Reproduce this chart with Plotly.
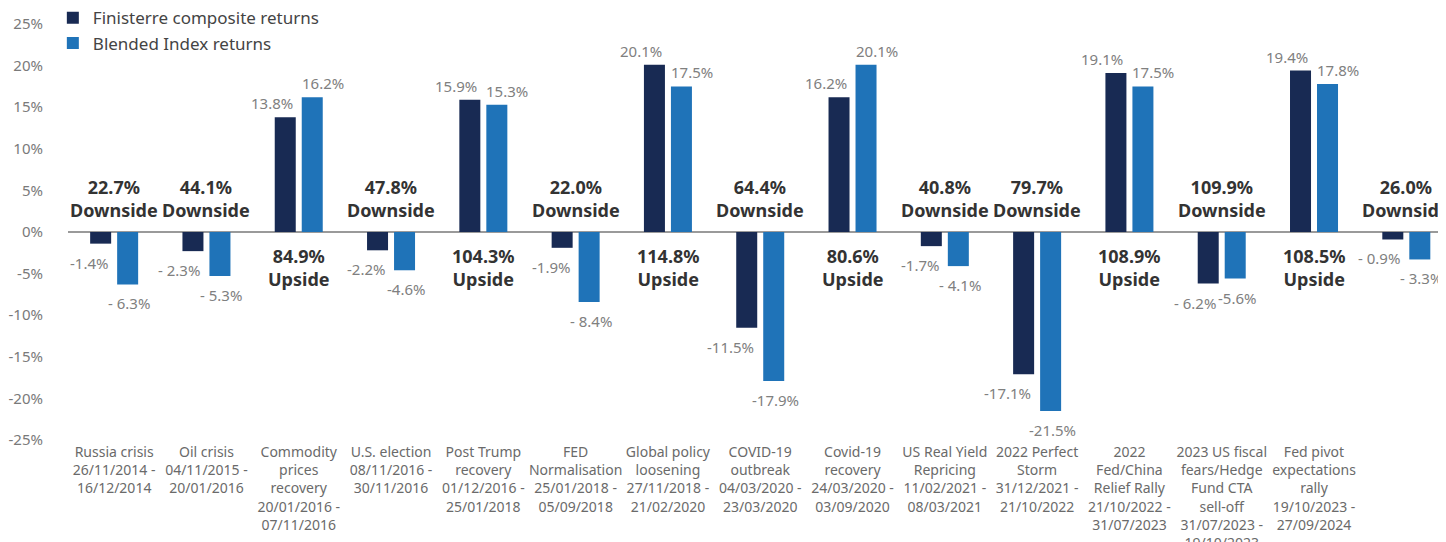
import plotly.graph_objects as go

categories = [
    "Russia crisis<br>26/11/2014 -<br>16/12/2014",
    "Oil crisis<br>04/11/2015 -<br>20/01/2016",
    "Commodity<br>prices<br>recovery<br>20/01/2016 -<br>07/11/2016",
    "U.S. election<br>08/11/2016 -<br>30/11/2016",
    "Post Trump<br>recovery<br>01/12/2016 -<br>25/01/2018",
    "FED<br>Normalisation<br>25/01/2018 -<br>05/09/2018",
    "Global policy<br>loosening<br>27/11/2018 -<br>21/02/2020",
    "COVID-19<br>outbreak<br>04/03/2020 -<br>23/03/2020",
    "Covid-19<br>recovery<br>24/03/2020 -<br>03/09/2020",
    "US Real Yield<br>Repricing<br>11/02/2021 -<br>08/03/2021",
    "2022 Perfect<br>Storm<br>31/12/2021 -<br>21/10/2022",
    "2022<br>Fed/China<br>Relief Rally<br>21/10/2022 -<br>31/07/2023",
    "2023 US fiscal<br>fears/Hedge<br>Fund CTA<br>sell-off<br>31/07/2023 -<br>19/10/2023",
    "Fed pivot<br>expectations<br>rally<br>19/10/2023 -<br>27/09/2024",
    "Trump 2.0<br>27/09/2024 -<br>31/12/2024",
]

finisterre = [-1.4, -2.3, 13.8, -2.2, 15.9, -1.9, 20.1, -11.5, 16.2, -1.7, -17.1, 19.1, -6.2, 19.4, -0.9]
blended = [-6.3, -5.3, 16.2, -4.6, 15.3, -8.4, 17.5, -17.9, 20.1, -4.1, -21.5, 17.5, -5.6, 17.8, -3.3]

finisterre_labels = ["-1.4%", "- 2.3%", "13.8%", "-2.2%", "15.9%", "-1.9%", "20.1%", "-11.5%",
                     "16.2%", "-1.7%", "-17.1%", "19.1%", "- 6.2%", "19.4%", "- 0.9%"]
blended_labels = ["- 6.3%", "- 5.3%", "16.2%", "-4.6%", "15.3%", "- 8.4%", "17.5%", "-17.9%",
                  "20.1%", "- 4.1%", "-21.5%", "17.5%", "-5.6%", "17.8%", "- 3.3%"]

capture_values = ["22.7%", "44.1%", "84.9%", "47.8%", "104.3%", "22.0%", "114.8%", "64.4%",
                  "80.6%", "40.8%", "79.7%", "108.9%", "109.9%", "108.5%", "26.0%"]
capture_types = ["Downside", "Downside", "Upside", "Downside", "Upside", "Downside", "Upside", "Downside",
                 "Upside", "Downside", "Downside", "Upside", "Downside", "Upside", "Downside"]

y_ticks = [-25, -20, -15, -10, -5, 0, 5, 10, 15, 20, 25]
y_tick_labels = ["-25%", "-20%", "-15%", "-10%", "-5%", "0%", "5%", "10%", "15%", "20%", "25%"]

NAVY = "#182a53"
BLUE = "#1f73b8"
FONT = "Noto Sans"

x_idx = list(range(len(categories)))

fig = go.Figure()
fig.add_trace(go.Bar(x=x_idx, y=finisterre, name="Finisterre composite returns",
                     marker=dict(color=NAVY, line=dict(width=0))))
fig.add_trace(go.Bar(x=x_idx, y=blended, name="Blended Index returns",
                     marker=dict(color=BLUE, line=dict(width=0))))

annotations = []
label_font = dict(family=FONT, size=15, color="#808080")
for i in x_idx:
    v = finisterre[i]
    annotations.append(dict(
        x=i, y=v, xref="x", yref="y", text=finisterre_labels[i], showarrow=False,
        xanchor="right", yanchor="top" if v < 0 else "bottom",
        xshift=-4, yshift=-7 if v < 0 else 2, font=label_font))
    v = blended[i]
    if v < 0:
        annotations.append(dict(
            x=i, y=v, xref="x", yref="y", text=blended_labels[i], showarrow=False,
            xanchor="center", yanchor="top", xshift=15, yshift=-7, font=label_font))
    else:
        annotations.append(dict(
            x=i, y=v, xref="x", yref="y", text=blended_labels[i], showarrow=False,
            xanchor="left", yanchor="bottom", xshift=1, yshift=2, font=label_font))
    down = capture_types[i] == "Downside"
    annotations.append(dict(
        x=i, y=4.05 if down else -4.3, xref="x", yref="y",
        text=f"<b>{capture_values[i]}<br>{capture_types[i]}</b>", showarrow=False,
        xanchor="center", yanchor="middle",
        font=dict(family=FONT, size=18, color="#333333")))

fig.update_layout(
    width=1438, height=534,
    margin=dict(l=60, r=0, t=16, b=102, autoexpand=False),
    paper_bgcolor="white", plot_bgcolor="white",
    barmode="group", bargap=0.415, bargroupgap=0.222,
    font=dict(family=FONT, color="#666666"),
    showlegend=True,
    legend=dict(x=-0.011, y=1.057, xanchor="left", yanchor="top",
                bgcolor="rgba(0,0,0,0)", font=dict(family=FONT, size=17, color="#444444"),
                tracegroupgap=0),
    annotations=annotations,
    xaxis=dict(range=[-0.5, 14.43], tickmode="array", tickvals=x_idx, ticktext=categories,
               tickfont=dict(family=FONT, size=14, color="#6a6a6a"), showgrid=False,
               zeroline=False, showline=False, ticks="", automargin=False,
               ticklabelstandoff=2),
    yaxis=dict(range=[-25, 25], tickmode="array", tickvals=y_ticks, ticktext=y_tick_labels,
               tickfont=dict(family=FONT, size=15, color="#7a7a7a"), showgrid=False,
               zeroline=True, zerolinecolor="#9a9a9a", zerolinewidth=2, showline=False,
               ticks="", ticklabelstandoff=24, automargin=False),
)

fig.write_html("out.html", post_script="document.body.style.overflow='hidden';")
